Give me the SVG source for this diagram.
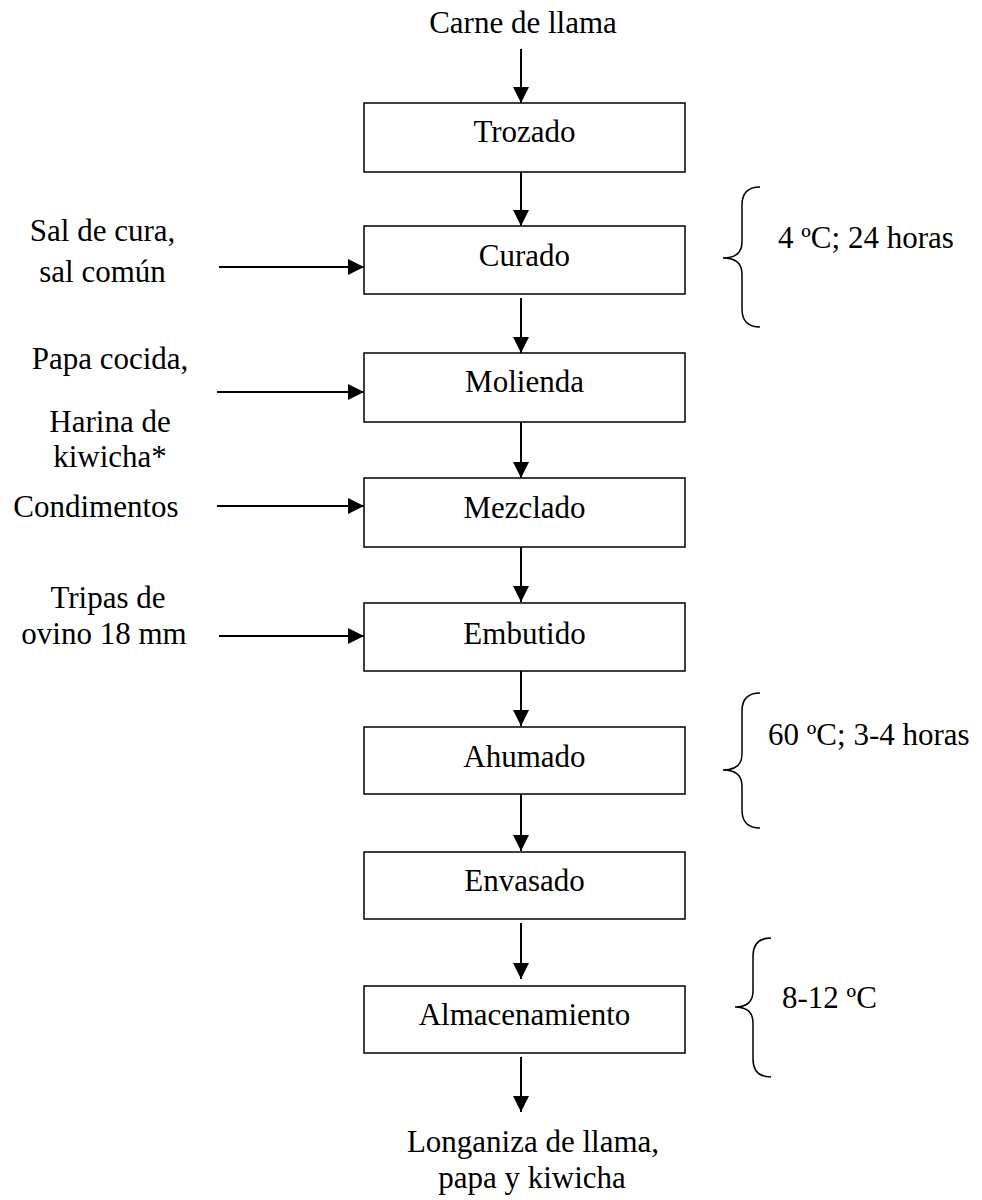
<svg xmlns="http://www.w3.org/2000/svg" width="982" height="1200" viewBox="0 0 982 1200">
<style>
  text { font-family: "Liberation Serif", "Times New Roman", serif; font-size: 31px; fill: #000; }
  .c { text-anchor: middle; }
  .box { fill: #fff; stroke: #000; stroke-width: 1.5; }
  .arr { stroke: #000; stroke-width: 2; fill: none; marker-end: url(#ah); }
  .brace { stroke: #000; stroke-width: 1.5; fill: none; }
</style>
<defs>
  <marker id="ah" markerUnits="userSpaceOnUse" markerWidth="16" markerHeight="16" refX="16" refY="8" orient="auto">
    <path d="M0,0 L16,8 L0,16 z" fill="#000"/>
  </marker>
</defs>
<rect width="982" height="1200" fill="#fff"/>

<g id="connectors">
  <line class="arr" x1="521" y1="49" x2="521" y2="103"/>
  <line class="arr" x1="521" y1="172" x2="521" y2="226"/>
  <line class="arr" x1="521" y1="298" x2="521" y2="353"/>
  <line class="arr" x1="521" y1="422" x2="521" y2="478"/>
  <line class="arr" x1="521" y1="547" x2="521" y2="602"/>
  <line class="arr" x1="521" y1="671" x2="521" y2="726"/>
  <line class="arr" x1="521" y1="794" x2="521" y2="851"/>
  <line class="arr" x1="521" y1="923" x2="521" y2="979"/>
  <line class="arr" x1="521" y1="1057" x2="521" y2="1112"/>
  <line class="arr" x1="219" y1="267" x2="364" y2="267"/>
  <line class="arr" x1="217" y1="392" x2="364" y2="392"/>
  <line class="arr" x1="217" y1="506" x2="364" y2="506"/>
  <line class="arr" x1="219" y1="636" x2="364" y2="636"/>
</g>

<g id="input-carne"><text class="c" x="523" y="33">Carne de llama</text></g>

<g id="trozado"><rect class="box" x="364" y="103" width="321" height="69"/><text class="c" x="524.5" y="142">Trozado</text></g>
<g id="curado"><rect class="box" x="364" y="226" width="321" height="68"/><text class="c" x="524.5" y="266">Curado</text></g>
<g id="molienda"><rect class="box" x="364" y="353" width="321" height="69"/><text class="c" x="524.5" y="392">Molienda</text></g>
<g id="mezclado"><rect class="box" x="364" y="478" width="321" height="69"/><text class="c" x="524.5" y="518">Mezclado</text></g>
<g id="embutido"><rect class="box" x="364" y="603" width="321" height="68"/><text class="c" x="524.5" y="644">Embutido</text></g>
<g id="ahumado"><rect class="box" x="364" y="727" width="321" height="67"/><text class="c" x="524.5" y="767">Ahumado</text></g>
<g id="envasado"><rect class="box" x="364" y="852" width="321" height="67"/><text class="c" x="524.5" y="891">Envasado</text></g>
<g id="almacenamiento"><rect class="box" x="364" y="986" width="321" height="67"/><text class="c" x="524.5" y="1025">Almacenamiento</text></g>

<g id="output"><text class="c" x="533" y="1152">Longaniza de llama,</text><text class="c" x="532" y="1188">papa y kiwicha</text></g>

<g id="in-sal"><text class="c" x="102.5" y="241">Sal de cura,</text><text class="c" x="102.5" y="282">sal común</text></g>
<g id="in-papa"><text class="c" x="110" y="369">Papa cocida,</text><text class="c" x="110" y="432">Harina de</text><text class="c" x="110" y="467">kiwicha*</text></g>
<g id="in-condimentos"><text class="c" x="96" y="517">Condimentos</text></g>
<g id="in-tripas"><text class="c" x="108" y="608">Tripas de</text><text class="c" x="104" y="644">ovino 18 mm</text></g>

<g id="cond-curado">
  <path class="brace" d="M760,187 Q742,187 742,205 L742,242 Q742,258 723,258 Q742,258 742,274 L742,309 Q742,327 760,327"/>
  <text x="778" y="248">4 ºC; 24 horas</text>
</g>
<g id="cond-ahumado">
  <path class="brace" d="M760,693 Q742,693 742,711 L742,754 Q742,770 723,770 Q742,770 742,786 L742,810 Q742,828 760,828"/>
  <text x="768" y="745">60 ºC; 3-4 horas</text>
</g>
<g id="cond-almacenamiento">
  <path class="brace" d="M771,938 Q753,938 753,956 L753,991 Q753,1007 735,1007 Q753,1007 753,1023 L753,1059 Q753,1077 771,1077"/>
  <text x="782" y="1008">8-12 ºC</text>
</g>
</svg>
